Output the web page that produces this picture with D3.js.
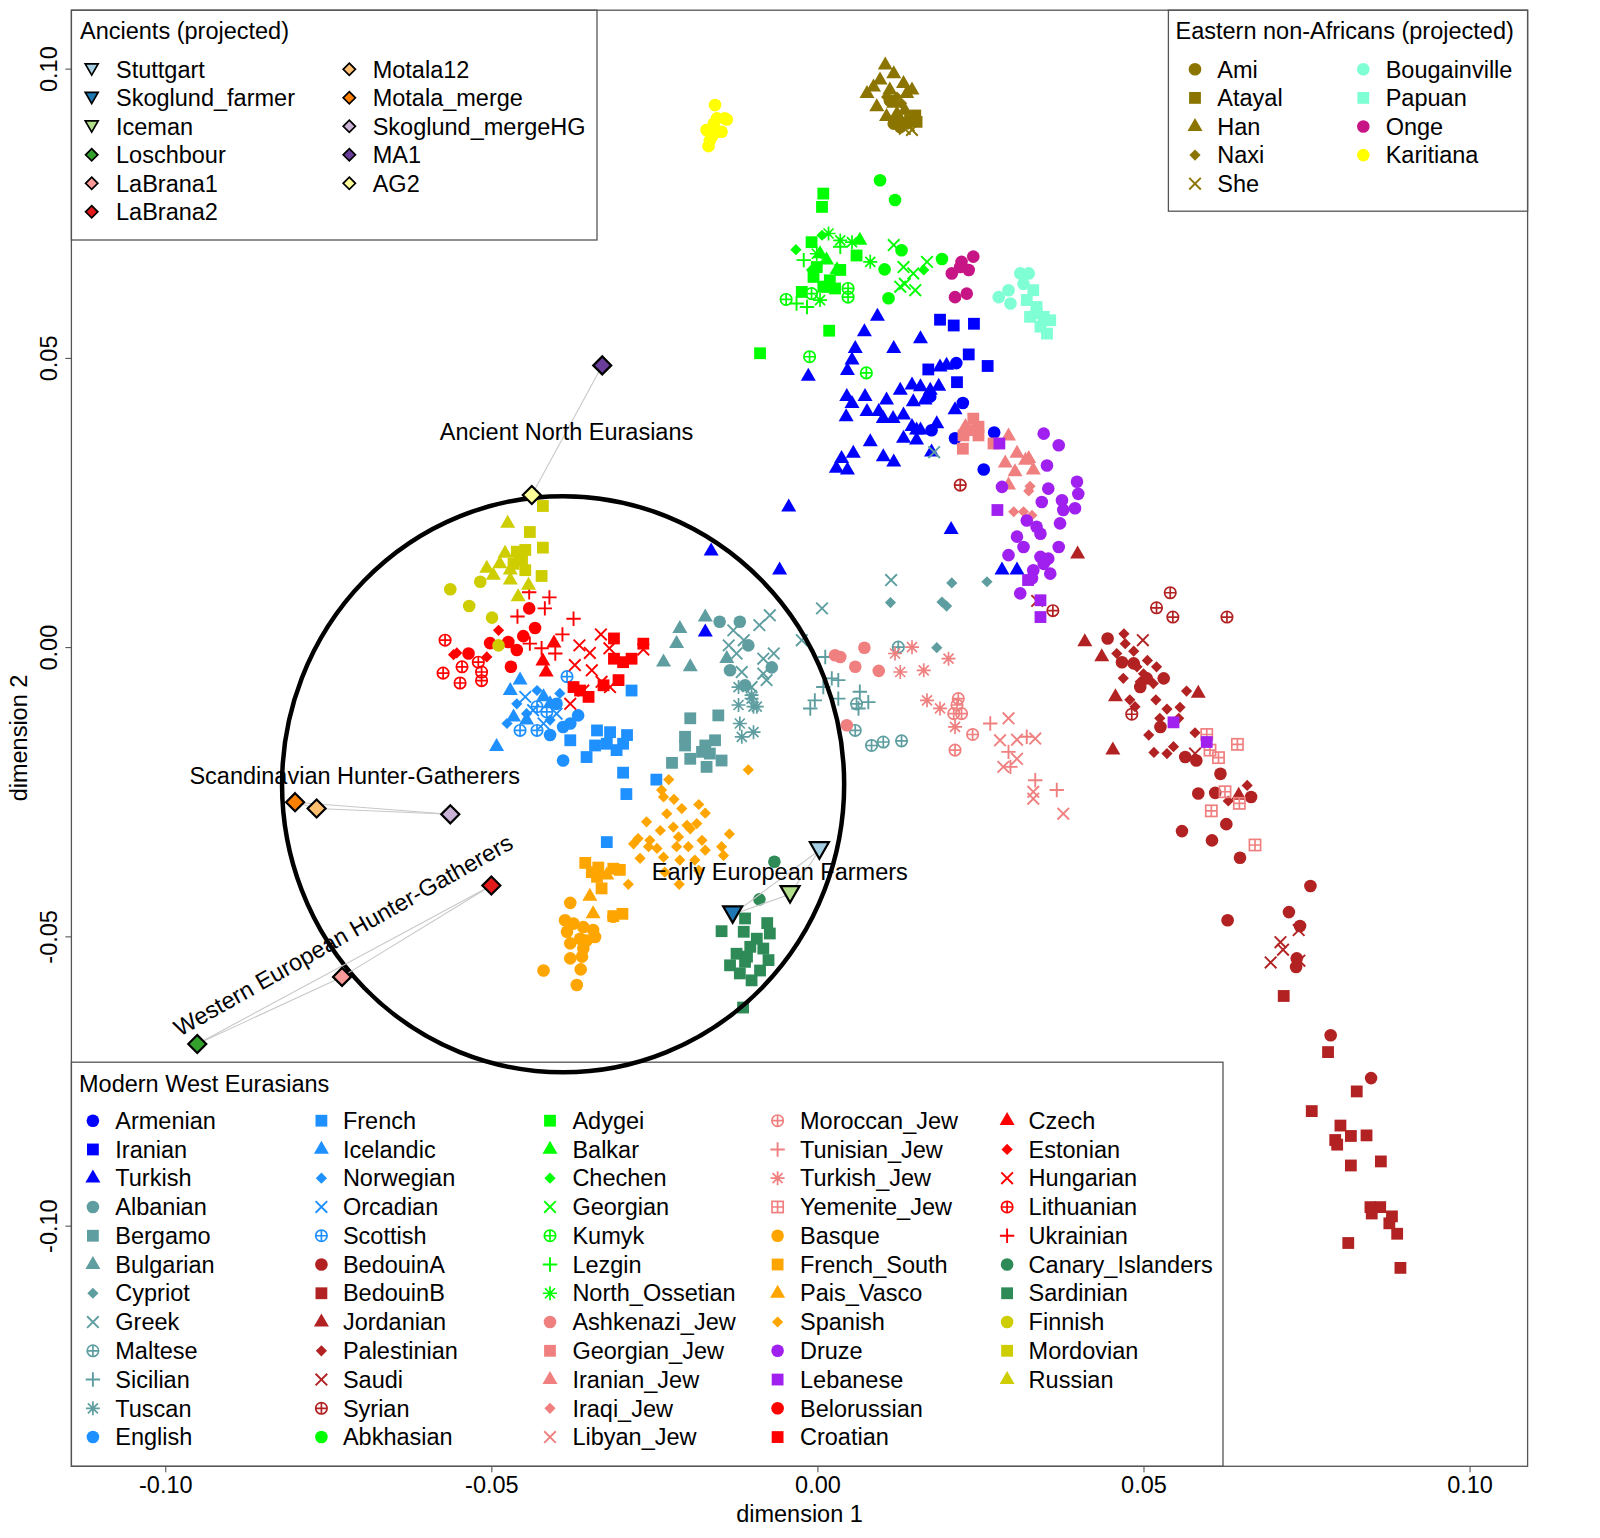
<!DOCTYPE html>
<html>
<head>
<meta charset="utf-8">
<script src="https://cdn.jsdelivr.net/npm/d3@7"></script>
<style>
  body { margin: 0; background: #fff; }
  svg { display: block; }
  text { font-family: "Liberation Sans", Arial, Helvetica, sans-serif; font-size: 23.5px; fill: #000; }
</style>
</head>
<body>
<svg id="chart" width="1600" height="1538"></svg>
<script>
// ---- modern West Eurasians: [dimension 1, dimension 2] ----
const Armenian = [[0.0213,0.0491],[0.0173,0.0433],[0.0223,0.0422],[0.0175,0.0375],[0.0211,0.0361],[0.0271,0.0371],[0.0255,0.0307]];
const Iranian = [[0.0188,0.0566],[0.0209,0.0556],[0.0240,0.0559],[0.0232,0.0506],[0.0261,0.0486],[0.0170,0.0480],[0.0214,0.0458]];
const Turkish = [[0.0092,0.0572],[0.0072,0.0545],[0.0058,0.0516],[0.0117,0.0516],[0.0053,0.0496],[0.0046,0.0478],[-0.0014,0.0468],[0.0158,0.0533],[0.0045,0.0433],[0.0073,0.0433],[0.0106,0.0427],[0.0053,0.0421],[0.0044,0.0398],[0.0076,0.0407],[0.0094,0.0407],[0.0101,0.0395],[0.0116,0.0395],[0.0132,0.0401],[0.0127,0.0444],[0.0145,0.0453],[0.0158,0.0450],[0.0173,0.0444],[0.0186,0.0451],[0.0147,0.0424],[0.0165,0.0427],[0.0211,0.0410],[0.0145,0.0381],[0.0152,0.0375],[0.0183,0.0386],[0.0132,0.0361],[0.0152,0.0358],[0.0081,0.0355],[0.0175,0.0337],[0.0055,0.0335],[0.0037,0.0326],[0.0101,0.0329],[0.0117,0.0320],[0.0029,0.0309],[0.0046,0.0306],[-0.0044,0.0242],[0.0205,0.0203],[-0.0058,0.0133],[0.0283,0.0133],[0.0306,0.0133],[0.0188,0.0484],[0.0198,0.0487],[0.0158,0.0375],[0.0170,0.0435],[-0.0163,0.0166],[-0.0172,0.0026]];
const Albanian = [[-0.0150,0.0044],[-0.0119,0.0044],[-0.0106,0.0003],[-0.0070,-0.0035],[-0.0134,-0.0040],[-0.0111,-0.0066]];
const Bergamo = [[-0.0195,-0.0123],[-0.0152,-0.0118],[-0.0203,-0.0155],[-0.0203,-0.0170],[-0.0157,-0.0161],[-0.0172,-0.0170],[-0.0177,-0.0181],[-0.0195,-0.0193],[-0.0170,-0.0207],[-0.0147,-0.0196],[-0.0223,-0.0200],[-0.0165,-0.0184]];
const Bulgarian = [[-0.0172,0.0052],[-0.0211,0.0032],[-0.0216,0.0006],[-0.0236,-0.0026],[-0.0195,-0.0034],[-0.0139,-0.0020]];
const Cypriot = [[0.0206,0.0111],[0.0260,0.0113],[0.0112,0.0077],[0.0191,0.0078],[0.0198,0.0071],[0.0183,-0.0001]];
const Greek = [[-0.0073,0.0055],[-0.0089,0.0038],[-0.0129,0.0029],[-0.0113,0.0012],[-0.0136,0.0003],[-0.0124,-0.0011],[-0.0067,-0.0011],[-0.0083,-0.0020],[-0.0116,-0.0043],[-0.0083,-0.0046],[-0.0078,-0.0057],[-0.0101,-0.0069],[-0.0024,0.0012],[0.0007,0.0067],[0.0113,0.0116],[0.0179,0.0337]];
const Maltese = [[0.0124,0.0000],[0.0060,-0.0098],[0.0058,-0.0144],[0.0083,-0.0170],[0.0101,-0.0164],[0.0129,-0.0162]];
const Sicilian = [[0.0012,-0.0017],[0.0032,-0.0057],[0.0009,-0.0069],[-0.0004,-0.0092],[-0.0011,-0.0106],[0.0032,-0.0089],[0.0065,-0.0077],[0.0063,-0.0106],[0.0078,-0.0095],[0.0022,-0.0054]];
const Tuscan = [[-0.0121,-0.0069],[-0.0101,-0.0089],[-0.0121,-0.0100],[-0.0098,-0.0103],[-0.0093,-0.0103],[-0.0119,-0.0132],[-0.0098,-0.0147],[-0.0116,-0.0155],[-0.0101,-0.0083]];
const English = [[-0.0367,-0.0118],[-0.0390,-0.0138],[-0.0410,-0.0152],[-0.0400,-0.0098],[-0.0379,-0.0132],[-0.0390,-0.0196]];
const French = [[-0.0285,-0.0075],[-0.0338,-0.0144],[-0.0318,-0.0147],[-0.0292,-0.0152],[-0.0379,-0.0161],[-0.0323,-0.0167],[-0.0298,-0.0167],[-0.0354,-0.0190],[-0.0341,-0.0170],[-0.0308,-0.0178],[-0.0298,-0.0217],[-0.0293,-0.0254],[-0.0247,-0.0229],[-0.0323,-0.0337]];
const Icelandic = [[-0.0456,-0.0057],[-0.0471,-0.0075],[-0.0466,-0.0121],[-0.0446,-0.0126],[-0.0492,-0.0172],[-0.0410,-0.0098],[-0.0420,-0.0086]];
const Norwegian = [[-0.0461,-0.0098],[-0.0446,-0.0115],[-0.0410,-0.0126],[-0.0430,-0.0075],[-0.0395,-0.0080],[-0.0476,-0.0132]];
const Orcadian = [[-0.0448,-0.0086],[-0.0420,-0.0132],[-0.0436,-0.0109],[-0.0400,-0.0115]];
const Scottish = [[-0.0384,-0.0051],[-0.0430,-0.0103],[-0.0430,-0.0144],[-0.0415,-0.0112],[-0.0456,-0.0144]];
const BedouinA = [[0.0445,0.0015],[0.0467,-0.0026],[0.0485,-0.0028],[0.0531,-0.0054],[0.0505,-0.0054],[0.0526,-0.0138],[0.0564,-0.0190],[0.0581,-0.0196],[0.0618,-0.0219],[0.0584,-0.0253],[0.0610,-0.0252],[0.0665,-0.0259],[0.0627,-0.0306],[0.0559,-0.0318],[0.0605,-0.0334],[0.0648,-0.0364],[0.0495,-0.0069],[0.0756,-0.0413],[0.0723,-0.0458],[0.0629,-0.0472],[0.0740,-0.0482],[0.0735,-0.0538],[0.0734,-0.0553],[0.0787,-0.0671],[0.0849,-0.0745]];
const BedouinB = [[0.0715,-0.0603],[0.0783,-0.0700],[0.0827,-0.0768],[0.0758,-0.0802],[0.0802,-0.0827],[0.0818,-0.0845],[0.0842,-0.0844],[0.0794,-0.0852],[0.0797,-0.0860],[0.0818,-0.0896],[0.0864,-0.0889],[0.0848,-0.0968],[0.0863,-0.0968],[0.0850,-0.0979],[0.0881,-0.0984],[0.0877,-0.0996],[0.0889,-0.1014],[0.0814,-0.1030],[0.0894,-0.1073]];
const Jordanian = [[0.0399,0.0161],[0.0410,0.0009],[0.0436,-0.0017],[0.0457,-0.0086],[0.0584,-0.0080],[0.0453,-0.0178],[0.0646,-0.0256]];
const Palestinian = [[0.0470,0.0023],[0.0472,0.0006],[0.0459,-0.0011],[0.0485,-0.0007],[0.0506,-0.0023],[0.0520,-0.0034],[0.0469,-0.0054],[0.0495,-0.0060],[0.0515,-0.0063],[0.0479,-0.0091],[0.0487,-0.0103],[0.0519,-0.0091],[0.0536,-0.0107],[0.0556,-0.0104],[0.0525,-0.0123],[0.0554,-0.0123],[0.0566,-0.0076],[0.0508,-0.0152],[0.0579,-0.0148],[0.0516,-0.0182],[0.0536,-0.0184],[0.0546,-0.0172],[0.0659,-0.0239],[0.0630,-0.0266],[0.0490,-0.0034],[0.0500,-0.0046]];
const Saudi = [[0.0337,0.0080],[0.0499,0.0012],[0.0579,-0.0184],[0.0738,-0.0489],[0.0710,-0.0510],[0.0714,-0.0523],[0.0695,-0.0545],[0.0739,-0.0542]];
const Syrian = [[0.0219,0.0280],[0.0361,0.0063],[0.0541,0.0094],[0.0520,0.0068],[0.0545,0.0052],[0.0628,0.0052],[0.0482,-0.0116]];
const Abkhasian = [[0.0096,0.0807],[0.0119,0.0773],[0.0191,0.0671],[0.0103,0.0653],[0.0109,0.0603],[0.0129,0.0686]];
const Adygei = [[0.0009,0.0784],[0.0007,0.0761],[-0.0009,0.0700],[0.0060,0.0677],[0.0035,0.0652],[-0.0006,0.0640],[-0.0024,0.0614],[0.0014,0.0623],[0.0027,0.0620],[0.0018,0.0547],[-0.0001,0.0657],[0.0019,0.0634],[0.0009,0.0623],[-0.0088,0.0508]];
const Balkar = [[0.0065,0.0703],[0.0014,0.0669],[0.0004,0.0680],[0.0030,0.0652]];
const Chechen = [[-0.0033,0.0687],[0.0007,0.0712],[0.0163,0.0652],[-0.0009,0.0652]];
const Georgian = [[0.0117,0.0695],[0.0132,0.0657],[0.0147,0.0646],[0.0168,0.0666],[0.0134,0.0628],[0.0150,0.0617],[0.0127,0.0623]];
const Kumyk = [[-0.0048,0.0601],[0.0047,0.0620],[0.0047,0.0605],[-0.0009,0.0611],[-0.0012,0.0502],[0.0075,0.0474]];
const Lezgin = [[-0.0021,0.0669],[-0.0016,0.0588],[-0.0032,0.0594],[0.0035,0.0692]];
const North_Ossetian = [[0.0017,0.0715],[0.0035,0.0703],[0.0053,0.0700],[0.0081,0.0666],[0.0004,0.0600],[-0.0001,0.0680]];
const Ashkenazi_Jew = [[0.0027,-0.0014],[0.0035,-0.0017],[0.0072,-0.0001],[0.0058,-0.0034],[0.0094,-0.0041],[0.0045,-0.0135]];
const Georgian_Jew = [[0.0239,0.0395],[0.0247,0.0381],[0.0224,0.0366],[0.0247,0.0366],[0.0223,0.0343],[0.0270,0.0352],[0.0239,0.0375]];
const Iranian_Jew = [[0.0227,0.0381],[0.0293,0.0365],[0.0306,0.0335],[0.0319,0.0323],[0.0288,0.0318],[0.0303,0.0303],[0.0331,0.0306],[0.0293,0.0280],[0.0324,0.0326]];
const Iraqi_Jew = [[0.0326,0.0278],[0.0324,0.0270],[0.0301,0.0234],[0.0316,0.0234],[0.0329,0.0228]];
const Libyan_Jew = [[0.0293,-0.0123],[0.0280,-0.0161],[0.0306,-0.0160],[0.0334,-0.0158],[0.0306,-0.0193],[0.0285,-0.0207],[0.0331,-0.0250],[0.0331,-0.0262],[0.0377,-0.0288]];
const Moroccan_Jew = [[0.0216,-0.0089],[0.0214,-0.0100],[0.0209,-0.0115],[0.0221,-0.0115],[0.0238,-0.0151],[0.0211,-0.0178]];
const Tunisian_Jew = [[0.0265,-0.0132],[0.0321,-0.0155],[0.0293,-0.0181],[0.0296,-0.0207],[0.0334,-0.0230],[0.0367,-0.0247]];
const Turkish_Jew = [[0.0119,-0.0011],[0.0145,0.0000],[0.0201,-0.0020],[0.0127,-0.0043],[0.0163,-0.0040],[0.0168,-0.0092],[0.0188,-0.0106],[0.0211,-0.0138]];
const Yemenite_Jew = [[0.0597,-0.0151],[0.0644,-0.0168],[0.0602,-0.0178],[0.0615,-0.0191],[0.0625,-0.0250],[0.0647,-0.0270],[0.0604,-0.0283],[0.0671,-0.0342]];
const Basque = [[-0.0379,-0.0442],[-0.0387,-0.0472],[-0.0374,-0.0478],[-0.0359,-0.0484],[-0.0344,-0.0489],[-0.0364,-0.0504],[-0.0379,-0.0512],[-0.0359,-0.0521],[-0.0341,-0.0501],[-0.0361,-0.0535],[-0.0379,-0.0538],[-0.0420,-0.0559],[-0.0363,-0.0557],[-0.0369,-0.0584],[-0.0313,-0.0466],[-0.0384,-0.0492],[-0.0354,-0.0507]];
const French_South = [[-0.0356,-0.0373],[-0.0336,-0.0381],[-0.0313,-0.0383],[-0.0303,-0.0385],[-0.0338,-0.0397],[-0.0331,-0.0417],[-0.0346,-0.0389],[-0.0299,-0.0461],[-0.0313,-0.0465]];
const Pais_Vasco = [[-0.0349,-0.0431],[-0.0344,-0.0461],[-0.0323,-0.0394]];
const Spanish = [[-0.0228,-0.0229],[-0.0239,-0.0247],[-0.0236,-0.0259],[-0.0220,-0.0263],[-0.0208,-0.0279],[-0.0182,-0.0272],[-0.0172,-0.0287],[-0.0231,-0.0288],[-0.0262,-0.0302],[-0.0241,-0.0317],[-0.0221,-0.0311],[-0.0200,-0.0308],[-0.0185,-0.0305],[-0.0213,-0.0328],[-0.0195,-0.0314],[-0.0275,-0.0331],[-0.0282,-0.0340],[-0.0259,-0.0345],[-0.0246,-0.0348],[-0.0216,-0.0345],[-0.0198,-0.0345],[-0.0177,-0.0334],[-0.0172,-0.0351],[-0.0147,-0.0345],[-0.0144,-0.0360],[-0.0272,-0.0365],[-0.0236,-0.0363],[-0.0211,-0.0368],[-0.0188,-0.0368],[-0.0234,-0.0389],[-0.0182,-0.0386],[-0.0212,-0.0410],[-0.0290,-0.0410],[-0.0135,-0.0323],[-0.0106,-0.0212],[-0.0257,-0.0334]];
const Druze = [[0.0347,0.0369],[0.0370,0.0349],[0.0352,0.0314],[0.0398,0.0286],[0.0400,0.0265],[0.0354,0.0274],[0.0375,0.0254],[0.0377,0.0237],[0.0395,0.0240],[0.0344,0.0251],[0.0372,0.0214],[0.0321,0.0219],[0.0336,0.0208],[0.0342,0.0196],[0.0306,0.0191],[0.0316,0.0173],[0.0293,0.0159],[0.0342,0.0156],[0.0354,0.0153],[0.0370,0.0173],[0.0357,0.0127],[0.0331,0.0133],[0.0311,0.0093],[0.0329,0.0119],[0.0347,0.0144],[0.0283,0.0277]];
const Lebanese = [[0.0279,0.0352],[0.0276,0.0237],[0.0323,0.0116],[0.0342,0.0081],[0.0342,0.0052],[0.0546,-0.0130],[0.0597,-0.0164]];
const Belorussian = [[-0.0442,0.0067],[-0.0433,0.0033],[-0.0451,0.0019],[-0.0502,0.0007],[-0.0474,0.0009],[-0.0461,-0.0005],[-0.0470,-0.0034],[-0.0535,-0.0011]];
const Croatian = [[-0.0312,0.0015],[-0.0312,-0.0020],[-0.0298,-0.0026],[-0.0285,-0.0020],[-0.0267,0.0006],[-0.0305,-0.0057],[-0.0351,-0.0086],[-0.0374,-0.0069],[-0.0364,-0.0075],[-0.0328,-0.0066]];
const Czech = [[-0.0404,0.0007],[-0.0421,-0.0024],[-0.0416,-0.0043]];
const Estonian = [[-0.0489,0.0029],[-0.0553,-0.0010],[-0.0507,-0.0017],[-0.0558,-0.0013]];
const Hungarian = [[-0.0332,0.0022],[-0.0365,0.0003],[-0.0349,-0.0010],[-0.0319,-0.0002],[-0.0267,-0.0004],[-0.0372,-0.0031],[-0.0346,-0.0040],[-0.0331,-0.0060],[-0.0318,-0.0069],[-0.0379,-0.0098],[-0.0359,-0.0075]];
const Lithuanian = [[-0.0571,0.0012],[-0.0574,-0.0045],[-0.0548,-0.0062],[-0.0545,-0.0034],[-0.0520,-0.0026],[-0.0515,-0.0043],[-0.0515,-0.0058]];
const Ukrainian = [[-0.0442,0.0095],[-0.0411,0.0086],[-0.0418,0.0067],[-0.0460,0.0053],[-0.0374,0.0049],[-0.0391,0.0022],[-0.0441,0.0006],[-0.0423,-0.0002],[-0.0402,-0.0011]];
const Canary_Islanders = [[-0.0066,-0.0371],[-0.0089,-0.0436]];
const Sardinian = [[-0.0111,-0.0469],[-0.0077,-0.0477],[-0.0147,-0.0491],[-0.0113,-0.0492],[-0.0073,-0.0495],[-0.0093,-0.0504],[-0.0103,-0.0518],[-0.0124,-0.0530],[-0.0083,-0.0521],[-0.0134,-0.0550],[-0.0111,-0.0544],[-0.0075,-0.0541],[-0.0119,-0.0564],[-0.0101,-0.0576],[-0.0088,-0.0559],[-0.0108,-0.0535],[-0.0114,-0.0623]];
const Finnish = [[-0.0563,0.0100],[-0.0517,0.0113],[-0.0534,0.0071],[-0.0499,0.0051],[-0.0489,0.0003]];
const Mordovian = [[-0.0421,0.0244],[-0.0441,0.0199],[-0.0421,0.0172],[-0.0423,0.0123],[-0.0461,0.0165],[-0.0448,0.0168],[-0.0453,0.0150],[-0.0448,0.0133],[-0.0466,0.0144]];
const Russian = [[-0.0475,0.0214],[-0.0479,0.0162],[-0.0507,0.0136],[-0.0497,0.0124],[-0.0487,0.0144],[-0.0471,0.0116],[-0.0459,0.0087],[-0.0443,0.0107],[-0.0471,0.0133],[-0.0456,0.0159]];

// ---- eastern non-Africans (projected) ----
const Ami = [[0.0117,0.0905],[0.0127,0.0899],[0.0111,0.0945]];
const Atayal = [[0.0152,0.0908],[0.0142,0.0911],[0.0132,0.0905],[0.0150,0.0919]];
const Han = [[0.0104,0.1006],[0.0096,0.0980],[0.0117,0.0991],[0.0132,0.0974],[0.0076,0.0957],[0.0111,0.0963],[0.0137,0.0957],[0.0091,0.0934],[0.0117,0.0940],[0.0134,0.0928],[0.0106,0.0917],[0.0127,0.0911],[0.0145,0.0963],[0.0086,0.0968],[0.0122,0.0922]];
const Naxi = [[0.0106,0.0951],[0.0122,0.0951],[0.0129,0.0940]];
const She = [[0.0145,0.0894],[0.0134,0.0896],[0.0140,0.0902]];
const Bougainville = [[0.0278,0.0605],[0.0293,0.0617],[0.0311,0.0646],[0.0324,0.0646],[0.0296,0.0594],[0.0316,0.0628]];
const Papuan = [[0.0321,0.0600],[0.0336,0.0588],[0.0347,0.0571],[0.0357,0.0565],[0.0326,0.0571],[0.0342,0.0554],[0.0352,0.0542],[0.0331,0.0617],[0.0336,0.0577]];
const Onge = [[0.0206,0.0646],[0.0221,0.0666],[0.0239,0.0675],[0.0232,0.0652],[0.0211,0.0605],[0.0229,0.0611],[0.0219,0.0657]];
const Karitiana = [[-0.0157,0.0937],[-0.0142,0.0914],[-0.0159,0.0905],[-0.0152,0.0891],[-0.0165,0.0876],[-0.0167,0.0866],[-0.0162,0.0882],[-0.0147,0.0891],[-0.0154,0.0914],[-0.0139,0.0912],[-0.0170,0.0894]];

// ---- ancients (projected) ----
const ancientNames = ["Stuttgart","Skoglund_farmer","Iceman","Loschbour","LaBrana1","LaBrana2","Motala12","Motala_merge","Skoglund_mergeHG","MA1","AG2"];
const ancientDim1 = [0.0003,-0.0130,-0.0042,-0.0951,-0.0729,-0.0500,-0.0768,-0.0801,-0.0563,-0.0330,-0.0438];
const ancientDim2 = [-0.0351,-0.0462,-0.0427,-0.0686,-0.0570,-0.0412,-0.0279,-0.0268,-0.0289,0.0487,0.0263];
const ancientFill = ["#A6CEE3","#1F78B4","#B2DF8A","#33A02C","#FB9A99","#E31A1C","#FDBF6F","#FF7F00","#CAB2D6","#6A3D9A","#FFFF99"];
const ancientShape = ["down","down","down","diamond","diamond","diamond","diamond","diamond","diamond","diamond","diamond"];
const ancientGroups = [[0,1,2],[3,4,5],[6,7,8],[9,10]];

const groupLabels = ["Ancient North Eurasians","Scandinavian Hunter-Gatherers","Early European Farmers","Western European Hunter-Gatherers"];
const labelDim1 = [-0.0579,-0.0963,-0.0254,-0.0721];
const labelDim2 = [0.0358,-0.0237,-0.0402,-0.0510];
const labelAngle = [0,0,0,-29.5];

const ticks = [-0.10,-0.05,0.00,0.05,0.10];

// styles per population (legend order)
const west = [
  ["Armenian","#0000FF","circle",Armenian],["Iranian","#0000FF","square",Iranian],["Turkish","#0000FF","triangle",Turkish],
  ["Albanian","#5F9EA0","circle",Albanian],["Bergamo","#5F9EA0","square",Bergamo],["Bulgarian","#5F9EA0","triangle",Bulgarian],
  ["Cypriot","#5F9EA0","diamond",Cypriot],["Greek","#5F9EA0","cross",Greek],["Maltese","#5F9EA0","oplus",Maltese],
  ["Sicilian","#5F9EA0","plus",Sicilian],["Tuscan","#5F9EA0","asterisk",Tuscan],["English","#1E90FF","circle",English],
  ["French","#1E90FF","square",French],["Icelandic","#1E90FF","triangle",Icelandic],["Norwegian","#1E90FF","diamond",Norwegian],
  ["Orcadian","#1E90FF","cross",Orcadian],["Scottish","#1E90FF","oplus",Scottish],["BedouinA","#B22222","circle",BedouinA],
  ["BedouinB","#B22222","square",BedouinB],["Jordanian","#B22222","triangle",Jordanian],["Palestinian","#B22222","diamond",Palestinian],
  ["Saudi","#B22222","cross",Saudi],["Syrian","#B22222","oplus",Syrian],["Abkhasian","#00FF00","circle",Abkhasian],
  ["Adygei","#00FF00","square",Adygei],["Balkar","#00FF00","triangle",Balkar],["Chechen","#00FF00","diamond",Chechen],
  ["Georgian","#00FF00","cross",Georgian],["Kumyk","#00FF00","oplus",Kumyk],["Lezgin","#00FF00","plus",Lezgin],
  ["North_Ossetian","#00FF00","asterisk",North_Ossetian],["Ashkenazi_Jew","#F08080","circle",Ashkenazi_Jew],["Georgian_Jew","#F08080","square",Georgian_Jew],
  ["Iranian_Jew","#F08080","triangle",Iranian_Jew],["Iraqi_Jew","#F08080","diamond",Iraqi_Jew],["Libyan_Jew","#F08080","cross",Libyan_Jew],
  ["Moroccan_Jew","#F08080","oplus",Moroccan_Jew],["Tunisian_Jew","#F08080","plus",Tunisian_Jew],["Turkish_Jew","#F08080","asterisk",Turkish_Jew],
  ["Yemenite_Jew","#F08080","boxplus",Yemenite_Jew],["Basque","#FFA500","circle",Basque],["French_South","#FFA500","square",French_South],
  ["Pais_Vasco","#FFA500","triangle",Pais_Vasco],["Spanish","#FFA500","diamond",Spanish],["Druze","#A020F0","circle",Druze],
  ["Lebanese","#A020F0","square",Lebanese],["Belorussian","#FF0000","circle",Belorussian],["Croatian","#FF0000","square",Croatian],
  ["Czech","#FF0000","triangle",Czech],["Estonian","#FF0000","diamond",Estonian],["Hungarian","#FF0000","cross",Hungarian],
  ["Lithuanian","#FF0000","oplus",Lithuanian],["Ukrainian","#FF0000","plus",Ukrainian],["Canary_Islanders","#2E8B57","circle",Canary_Islanders],
  ["Sardinian","#2E8B57","square",Sardinian],["Finnish","#CDCD00","circle",Finnish],["Mordovian","#CDCD00","square",Mordovian],
  ["Russian","#CDCD00","triangle",Russian]
];
const east = [
  ["Ami","#8B7500","circle",Ami],["Atayal","#8B7500","square",Atayal],["Han","#8B7500","triangle",Han],
  ["Naxi","#8B7500","diamond",Naxi],["She","#8B7500","cross",She],["Bougainville","#7FFFD4","circle",Bougainville],
  ["Papuan","#7FFFD4","square",Papuan],["Onge","#C71585","circle",Onge],["Karitiana","#FFFF00","circle",Karitiana]
];

const svg = d3.select("#chart");
const x = d3.scaleLinear().domain([-0.1144, 0.1089]).range([71.4, 1527.6]);
const y = d3.scaleLinear().domain([-0.1416, 0.1101]).range([1466.3, 10.2]);

// draws one plotting symbol into a <g> already moved to its spot
function sym(g, shape, color) {
  const lw = 1.9;
  switch (shape) {
    case "circle": g.append("circle").attr("r", 6.3).attr("fill", color); break;
    case "square": g.append("rect").attr("x", -5.9).attr("y", -5.9).attr("width", 11.8).attr("height", 11.8).attr("fill", color); break;
    case "triangle": g.append("path").attr("d", "M0,-8.6L7.5,4.4L-7.5,4.4Z").attr("fill", color); break;
    case "diamond": g.append("path").attr("d", "M0,-5.6L5.6,0L0,5.6L-5.6,0Z").attr("fill", color); break;
    case "cross": g.append("path").attr("d", "M-5.8,-5.8L5.8,5.8M-5.8,5.8L5.8,-5.8").attr("stroke", color).attr("stroke-width", lw); break;
    case "plus": g.append("path").attr("d", "M-7.2,0H7.2M0,-7.2V7.2").attr("stroke", color).attr("stroke-width", lw); break;
    case "asterisk": g.append("path").attr("d", "M-7,0H7M0,-7V7M-5,-5L5,5M-5,5L5,-5").attr("stroke", color).attr("stroke-width", 1.7); break;
    case "oplus":
      g.append("circle").attr("r", 5.7).attr("fill", "none").attr("stroke", color).attr("stroke-width", 1.7);
      g.append("path").attr("d", "M-5.7,0H5.7M0,-5.7V5.7").attr("stroke", color).attr("stroke-width", 1.7); break;
    case "boxplus":
      g.append("rect").attr("x", -5.6).attr("y", -5.6).attr("width", 11.2).attr("height", 11.2).attr("fill", "none").attr("stroke", color).attr("stroke-width", 1.7);
      g.append("path").attr("d", "M-5.6,0H5.6M0,-5.6V5.6").attr("stroke", color).attr("stroke-width", 1.7); break;
  }
}

function ancientSym(g, shape, fill, big) {
  const s = big ? 1 : 0.68;
  const d = shape === "down"
    ? `M${-9.5*s},${-8*s}L${9.5*s},${-8*s}L0,${8.5*s}Z`
    : `M0,${-9*s}L${9*s},0L0,${9*s}L${-9*s},0Z`;
  g.append("path").attr("d", d).attr("fill", fill).attr("stroke", "#000")
    .attr("stroke-width", big ? 2.2 : 1.7).attr("stroke-linejoin", "miter");
}

// ---- legends ----
function legendBox(x0, y0, x1, y1) {
  svg.append("rect").attr("x", x0).attr("y", y0).attr("width", x1 - x0).attr("height", y1 - y0)
    .attr("fill", "none").attr("stroke", "#555").attr("stroke-width", 1.3);
}

// Ancients
legendBox(71.4, 10.2, 597, 240);
svg.append("text").attr("x", 80).attr("y", 31).attr("dy", "0.35em").text("Ancients (projected)");
ancientNames.forEach((n, i) => {
  const col = i < 6 ? 0 : 1, row = i < 6 ? i : i - 6;
  const cy = 69.3 + row * 28.5;
  const g = svg.append("g").attr("transform", `translate(${[91.7, 349.3][col]},${cy})`);
  ancientSym(g, ancientShape[i], ancientFill[i], false);
  svg.append("text").attr("x", [116, 372.7][col]).attr("y", cy).attr("dy", "0.35em").text(n);
});

// Eastern non-Africans
legendBox(1168.4, 10.2, 1527.6, 211.2);
svg.append("text").attr("x", 1175.5).attr("y", 30.6).attr("dy", "0.35em").text("Eastern non-Africans (projected)");
east.forEach((p, i) => {
  const col = i < 5 ? 0 : 1, row = i < 5 ? i : i - 5;
  const cy = 69.3 + row * 28.6;
  sym(svg.append("g").attr("transform", `translate(${[1195, 1363.3][col]},${cy})`), p[2], p[1]);
  svg.append("text").attr("x", [1217.3, 1385.7][col]).attr("y", cy).attr("dy", "0.35em").text(p[0]);
});

// Modern West Eurasians
legendBox(71.4, 1062.2, 1223, 1466.3);
svg.append("text").attr("x", 79).attr("y", 1083.5).attr("dy", "0.35em").text("Modern West Eurasians");
const symX = [92.9, 321.4, 550, 777.6, 1007.1], txtX = [115.3, 342.9, 572.4, 800, 1028.6];
west.forEach((p, i) => {
  const col = Math.floor(i / 12), row = i % 12;
  const cy = 1120.7 + row * 28.76;
  sym(svg.append("g").attr("transform", `translate(${symX[col]},${cy})`), p[2], p[1]);
  svg.append("text").attr("x", txtX[col]).attr("y", cy).attr("dy", "0.35em").text(p[0]);
});

// ---- points ----
const pts = svg.append("g");
[...west, ...east].forEach(p => {
  pts.append("g").selectAll("g").data(p[3]).join("g")
    .attr("transform", d => `translate(${x(d[0])},${y(d[1])})`)
    .each(function () { sym(d3.select(this), p[2], p[1]); });
});

// ---- circle around West Eurasians ----
const cx0 = -0.0390, cy0 = -0.0237, rx0 = 0.0431, ry0 = 0.0498;
svg.append("ellipse")
  .attr("cx", x(cx0)).attr("cy", y(cy0))
  .attr("rx", x(cx0 + rx0) - x(cx0)).attr("ry", y(cy0) - y(cy0 + ry0))
  .attr("fill", "none").attr("stroke", "#000").attr("stroke-width", 4.5);

// ---- ancient connecting lines and markers ----
ancientGroups.forEach(grp => {
  grp.forEach((a, i) => grp.slice(i + 1).forEach(b => {
    svg.append("line")
      .attr("x1", x(ancientDim1[a])).attr("y1", y(ancientDim2[a]))
      .attr("x2", x(ancientDim1[b])).attr("y2", y(ancientDim2[b]))
      .attr("stroke", "#C8C8C8").attr("stroke-width", 1.1);
  }));
});
ancientNames.forEach((n, i) => {
  const g = svg.append("g").attr("transform", `translate(${x(ancientDim1[i])},${y(ancientDim2[i])})`);
  ancientSym(g, ancientShape[i], ancientFill[i], true);
});

groupLabels.forEach((t, i) => {
  svg.append("text")
    .attr("transform", `translate(${x(labelDim1[i])},${y(labelDim2[i])}) rotate(${labelAngle[i]})`)
    .attr("text-anchor", labelAngle[i] ? "middle" : "start")
    .text(t);
});

// ---- axes and frame ----
const fmt = d => d.toFixed(2);
const xAxis = svg.append("g").attr("transform", "translate(0,1466.3)")
  .call(d3.axisBottom(x).tickValues(ticks).tickSize(6).tickFormat(fmt));
xAxis.select(".domain").remove();
xAxis.selectAll("line").attr("stroke", "#444");
xAxis.selectAll("text").attr("y", 27).attr("dy", 0).style("font-size", "23.5px")
  .style("font-family", "'Liberation Sans', Arial, sans-serif").attr("fill", "#000");

const yAxis = svg.append("g").attr("transform", "translate(71.4,0)")
  .call(d3.axisLeft(y).tickValues(ticks).tickSize(6).tickFormat(fmt));
yAxis.select(".domain").remove();
yAxis.selectAll("line").attr("stroke", "#444");
yAxis.selectAll("text").attr("x", null).attr("dy", 0).attr("text-anchor", "middle")
  .attr("transform", "translate(-14,0) rotate(-90)")
  .style("font-size", "23.5px").style("font-family", "'Liberation Sans', Arial, sans-serif").attr("fill", "#000");

svg.append("rect").attr("x", 71.4).attr("y", 10.2).attr("width", 1527.6 - 71.4).attr("height", 1466.3 - 10.2)
  .attr("fill", "none").attr("stroke", "#555").attr("stroke-width", 1.3);

svg.append("text").attr("x", 799.5).attr("y", 1522).attr("text-anchor", "middle").text("dimension 1");
svg.append("text").attr("transform", "translate(27,738) rotate(-90)").attr("text-anchor", "middle").text("dimension 2");
</script>
</body>
</html>
